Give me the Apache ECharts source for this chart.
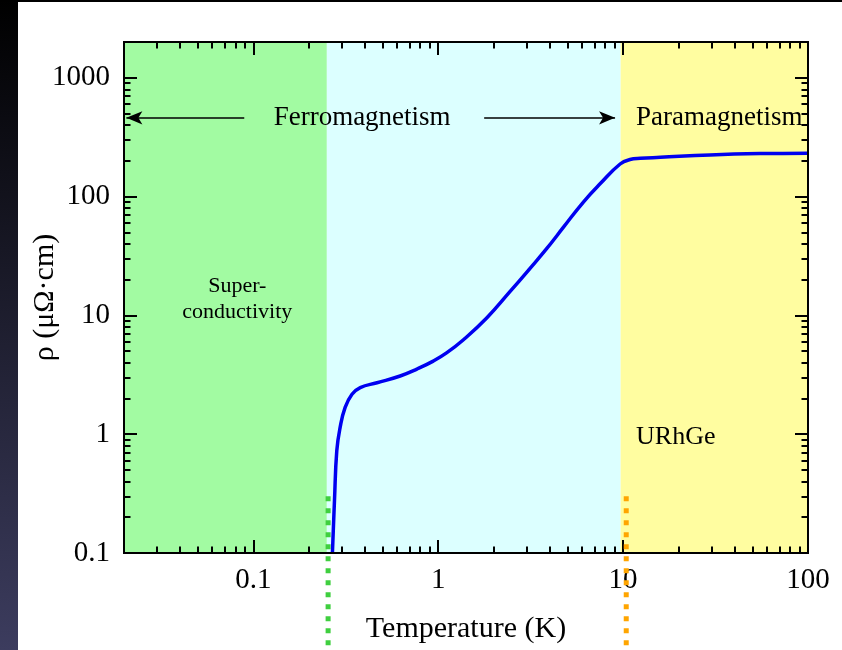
<!DOCTYPE html>
<html>
<head>
<meta charset="utf-8">
<script src="https://cdn.jsdelivr.net/npm/echarts@6/dist/echarts.min.js"></script>
<style>
  html, body { margin: 0; padding: 0; background: #ffffff; }
  #chart { width: 842px; height: 650px; }
</style>
</head>
<body>
<div id="chart"></div>
<script>
// Resistivity of URhGe versus temperature
const temperature = [0.268, 0.275, 0.283, 0.295, 0.314, 0.342, 0.379, 0.467, 0.623, 0.767, 0.94, 1.11,
  1.37, 1.83, 2.45, 3.14, 3.87, 4.75, 6.10, 7.51, 9.64, 10.9, 12.4, 15.9, 29.5, 55, 100];
const resistivity = [0.1, 0.278, 0.727, 1.14, 1.68, 2.17, 2.47, 2.71, 3.09, 3.53, 4.12, 4.83,
  6.24, 9.5, 15.9, 24.9, 36.6, 55.0, 90, 128, 188, 205, 210, 214, 224, 230, 232];

// Axis ticks
const xMajorTicks = [0.1, 1, 10, 100];
const xMinorTicks = [0.02, 0.03, 0.04, 0.05, 0.06, 0.07, 0.08, 0.09,
  0.2, 0.3, 0.4, 0.5, 0.6, 0.7, 0.8, 0.9,
  2, 3, 4, 5, 6, 7, 8, 9,
  20, 30, 40, 50, 60, 70, 80, 90];
const yMajorTicks = [0.1, 1, 10, 100, 1000];
const yMinorTicks = [0.2, 0.3, 0.4, 0.5, 0.6, 0.7, 0.8, 0.9,
  2, 3, 4, 5, 6, 7, 8, 9,
  20, 30, 40, 50, 60, 70, 80, 90,
  200, 300, 400, 500, 600, 700, 800, 900];

// Phase regions (temperature bounds) and transition markers
const phaseBounds = [0.02, 0.25, 9.7, 100];
const phaseColors = ['#a2fba2', '#dcffff', '#fffda0'];
const transitionT = [0.254, 10.4];
const transitionColors = ['#3fcf3f', '#ffa500'];
const transitionTopRho = 0.3;

// Arrow annotations: [tail T, tip T] at a common resistivity level
const arrowRho = 460;
const arrowSpans = [[0.0894, 0.0206], [1.773, 9.05]];

const FONT = 'Liberation Serif';
const X_MIN = 0.02, X_MAX = 100, Y_MIN = 0.1, Y_MAX = 2000;

function logAxis(dim, position, ticks, major, extra) {
  const base = {
    type: 'log',
    logBase: 10,
    min: dim === 'x' ? X_MIN : Y_MIN,
    max: dim === 'x' ? X_MAX : Y_MAX,
    position: position,
    z: 6,
    axisLine: { show: true, lineStyle: { color: '#000', width: 2 } },
    axisTick: {
      show: true, inside: true, length: major ? 13 : 6.5,
      customValues: ticks,
      lineStyle: { color: '#000', width: 2 }
    },
    axisLabel: { show: false },
    splitLine: { show: false },
    minorTick: { show: false },
    minorSplitLine: { show: false }
  };
  return Object.assign(base, extra || {});
}

const chart = echarts.init(document.getElementById('chart'), null, { renderer: 'canvas' });

const areaData = [];
for (let i = 0; i < phaseColors.length; i++) {
  areaData.push([
    { xAxis: phaseBounds[i], itemStyle: { color: phaseColors[i] } },
    { xAxis: phaseBounds[i + 1] }
  ]);
}

chart.setOption({
  animation: false,
  backgroundColor: '#ffffff',
  grid: { left: 124, right: 34, top: 42, bottom: 97, outerBoundsMode: 'none', containLabel: false },
  xAxis: [
    logAxis('x', 'bottom', xMajorTicks, true, {
      axisLabel: {
        show: true, customValues: xMajorTicks, margin: 13,
        color: '#000', fontFamily: FONT, fontSize: 29,
        formatter: v => String(v)
      },
      name: 'Temperature (K)', nameLocation: 'middle', nameGap: 61, nameMoveOverlap: false,
      nameTextStyle: { color: '#000', fontFamily: FONT, fontSize: 30 }
    }),
    logAxis('x', 'bottom', xMinorTicks, false),
    logAxis('x', 'top', xMajorTicks, true),
    logAxis('x', 'top', xMinorTicks, false)
  ],
  yAxis: [
    logAxis('y', 'left', yMajorTicks, true, {
      axisLabel: {
        show: true, customValues: yMajorTicks, margin: 14,
        color: '#000', fontFamily: FONT, fontSize: 29,
        formatter: v => String(v)
      },
      name: 'ρ (μΩ·cm)', nameLocation: 'middle', nameGap: 64, nameRotate: 90, nameMoveOverlap: false,
      nameTextStyle: { color: '#000', fontFamily: FONT, fontSize: 30 }
    }),
    logAxis('y', 'left', yMinorTicks, false),
    logAxis('y', 'right', yMajorTicks, true),
    logAxis('y', 'right', yMinorTicks, false)
  ],
  series: [{
    type: 'line',
    xAxisIndex: 0,
    yAxisIndex: 0,
    data: temperature.map((t, i) => [t, resistivity[i]]),
    showSymbol: false,
    smooth: 0.45,
    clip: true,
    z: 4,
    lineStyle: { color: '#0000f0', width: 3.5 },
    emphasis: { disabled: true },
    markArea: {
      silent: true,
      z: 1,
      data: areaData
    },
    markLine: {
      silent: true,
      symbol: ['none', 'arrow'],
      symbolSize: [10, 16],
      label: { show: false },
      lineStyle: { color: '#000', width: 1.5, type: 'solid' },
      emphasis: { disabled: true },
      data: arrowSpans.map(s => [{ coord: [s[0], arrowRho] }, { coord: [s[1], arrowRho] }])
    }
  }]
});

// Annotations placed through the chart's own coordinate conversion
function px(t, r) { return chart.convertToPixel({ seriesIndex: 0 }, [t, r]); }
const H = chart.getHeight();
const W = chart.getWidth();

const textStyle = { fill: '#000', fontFamily: FONT };
const annotations = [
  { text: 'Ferromagnetism', at: [0.388, arrowRho], align: 'center', size: 27 },
  { text: 'Paramagnetism', at: [11.75, arrowRho], align: 'left', size: 27 },
  { text: 'Super-\nconductivity', at: [0.082, 13.6], align: 'center', size: 22, lineHeight: 26 },
  { text: 'URhGe', at: [11.75, 0.95], align: 'left', size: 26 }
];

const graphics = [
  {
    type: 'rect', z: -10, silent: true,
    shape: { x: 0, y: 0, width: 18, height: H },
    style: {
      fill: new echarts.graphic.LinearGradient(0, 0, 0, 1, [
        { offset: 0, color: '#000000' },
        { offset: 1, color: '#3c3c5e' }
      ])
    }
  },
  {
    type: 'rect', z: -10, silent: true,
    shape: { x: 0, y: 0, width: W, height: 2 },
    style: { fill: '#000000' }
  }
];

annotations.forEach(a => {
  const p = px(a.at[0], a.at[1]);
  graphics.push({
    type: 'text', z: 20, silent: true,
    x: p[0], y: p[1],
    style: Object.assign({}, textStyle, {
      text: a.text,
      fontSize: a.size,
      lineHeight: a.lineHeight || a.size,
      align: a.align,
      verticalAlign: 'middle'
    })
  });
});

transitionT.forEach((t, i) => {
  const p = px(t, transitionTopRho);
  graphics.push({
    type: 'line', z: 20, silent: true,
    shape: { x1: p[0], y1: p[1], x2: p[0], y2: H },
    style: { stroke: transitionColors[i], lineWidth: 5, lineDash: [5, 7] }
  });
});

chart.setOption({ graphic: graphics });
</script>
</body>
</html>
